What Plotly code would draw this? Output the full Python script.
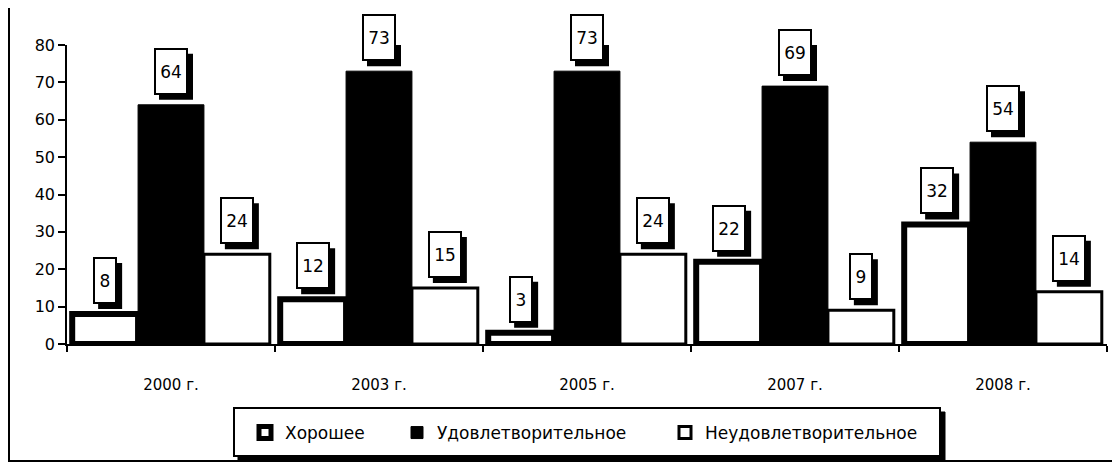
import plotly.graph_objects as go

categories = ["2000 г.", "2003 г.", "2005 г.", "2007 г.", "2008 г."]
series_names = ["Хорошее", "Удовлетворительное", "Неудовлетворительное"]
good = [8, 12, 3, 22, 32]
satisfactory = [64, 73, 73, 69, 54]
unsatisfactory = [24, 15, 24, 9, 14]
y_ticks = [0, 10, 20, 30, 40, 50, 60, 70, 80]

series_values = [good, satisfactory, unsatisfactory]

# page body has an 8px margin; figure is sized so it fills the window
W, H = 1112, 459
ml, mr, mt, mb = 59, 13, 37, 123
pw, ph = W - ml - mr, H - mt - mb
OFF = 8

def px_x(p):  # reference-window pixel -> paper
    return (p - OFF - ml) / pw

def px_y(p):
    return (H - mb - (p - OFF)) / ph

FONT = "DejaVu Sans"
bargap = 0.05

fig = go.Figure()
styles = [
    dict(color="white", line=dict(color="black", width=6)),
    dict(color="black", line=dict(color="black", width=1)),
    dict(color="white", line=dict(color="black", width=3)),
]
legend_ids = ["legend", "legend2", "legend3"]
for name, vals, st, lg in zip(series_names, series_values, styles, legend_ids):
    fig.add_trace(go.Bar(x=categories, y=vals, name=name, marker=st, legend=lg))

annotations = []
shapes = []
bw = (1 - bargap) / 3
BOX_H = 41
LIFT = 10
SH = 5
for j, vals in enumerate(series_values):
    for i, v in enumerate(vals):
        xc = i + (j - 1) * bw
        wbox = 18 if v < 10 else 28
        hw = wbox / 2 + 3
        htot = BOX_H + 5
        # drop shadow of the label box
        shapes.append(dict(type="rect", xref="x", yref="y", xsizemode="pixel", ysizemode="pixel",
                           xanchor=xc, yanchor=v, x0=-hw + SH, x1=hw + SH,
                           y0=LIFT - SH, y1=LIFT - SH + htot,
                           fillcolor="black", line=dict(width=0), layer="above"))
        annotations.append(dict(x=xc, y=v, xref="x", yref="y", text=str(v), showarrow=False,
                                width=wbox, height=BOX_H, yanchor="bottom", borderwidth=2,
                                bordercolor="black", bgcolor="white", yshift=LIFT,
                                font=dict(family=FONT, size=17, color="black")))

shapes += [
    # outer frame
    dict(type="rect", xref="paper", yref="paper", x0=px_x(9), x1=px_x(1114),
         y0=px_y(461), y1=px_y(6), line=dict(color="black", width=2), layer="below"),
    # legend shadow
    dict(type="rect", xref="paper", yref="paper", x0=px_x(238), x1=px_x(945),
         y0=px_y(460), y1=px_y(412), fillcolor="black", line=dict(color="black", width=1), layer="below"),
    # legend box
    dict(type="rect", xref="paper", yref="paper", x0=px_x(234), x1=px_x(940),
         y0=px_y(456), y1=px_y(408), fillcolor="white", line=dict(color="black", width=2), layer="below"),
]

legend_style = dict(orientation="h", xanchor="left", yanchor="middle", y=px_y(433),
                    bgcolor="rgba(0,0,0,0)", borderwidth=0, itemwidth=30,
                    font=dict(family=FONT, size=17, color="black"))

fig.update_layout(
    width=W, height=H,
    margin=dict(l=ml, r=mr, t=mt, b=mb),
    paper_bgcolor="white", plot_bgcolor="white",
    barmode="group", bargap=bargap, bargroupgap=0,
    font=dict(family=FONT, size=16, color="black"),
    showlegend=True,
    legend=dict(legend_style, x=px_x(245)),
    legend2=dict(legend_style, x=px_x(397)),
    legend3=dict(legend_style, x=px_x(665)),
    annotations=annotations,
    shapes=shapes,
    xaxis=dict(type="category", showline=True, linecolor="black", linewidth=1.5,
               ticks="outside", tickson="boundaries", ticklen=6, tickcolor="black",
               tickwidth=1.5, ticklabelstandoff=26, tickfont=dict(size=15), showgrid=False),
    yaxis=dict(range=[0, 80], tickvals=y_ticks, showline=True, linecolor="black", linewidth=1.5,
               ticks="outside", ticklen=7, tickcolor="black", tickwidth=1.5,
               showgrid=False, zeroline=False, tickfont=dict(size=16)),
)

fig.write_html("out.html")
